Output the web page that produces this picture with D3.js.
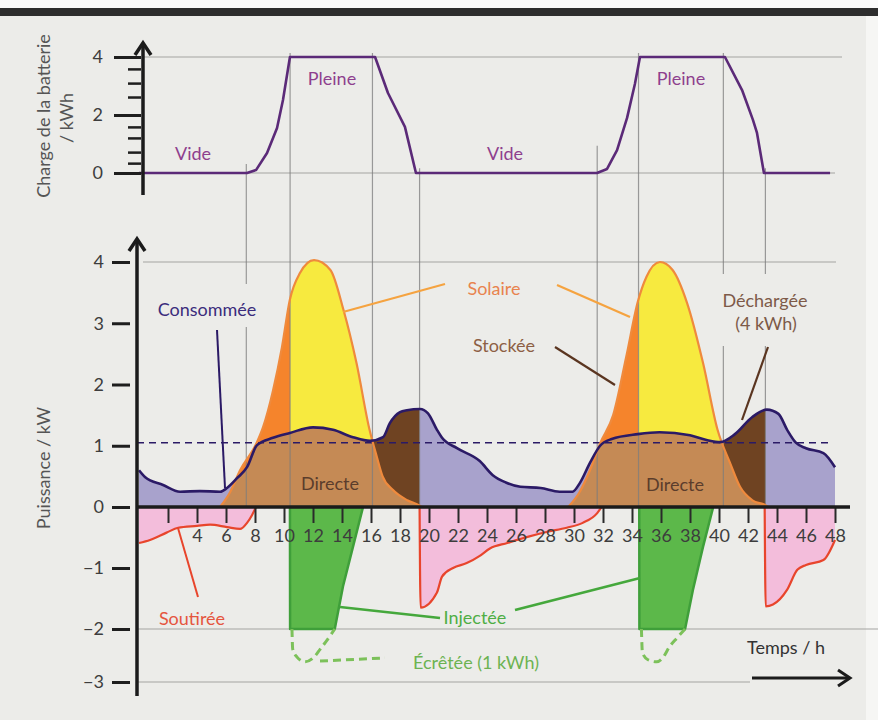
<!DOCTYPE html>
<html><head><meta charset="utf-8">
<script src="https://cdn.jsdelivr.net/npm/d3@7"></script>
<style>
html,body{margin:0;padding:0;background:#ecece9;}
svg{display:block;font-family:Lato,"Open Sans",sans-serif;}
</style></head><body>
<svg id="chart" width="878" height="720"></svg>
<script>
// ---------------- DATA ----------------
const hourTicks = d3.range(2, 49, 2);
const powerTicks = [-3, -2, -1, 0, 1, 2, 3, 4];
const chargeTicks = [0, 2, 4];
const chargeMinorTicks = [0.34, 0.72, 1.21, 1.59, 2.62, 3.1, 3.59];

// battery charge (kWh) vs hour
const battery = [[0,0],[7.45,0],[8.07,0.1],[8.83,0.69],[9.52,1.55],[9.93,2.52],[10.41,4],[16.28,4],[17.17,2.76],[18.34,1.59],[19.1,0],
  [31.59,0],[32.28,0.14],[32.97,0.79],[33.66,1.9],[34.2,3.07],[34.55,4],[40.41,4],[41.59,2.86],[42.34,1.83],[42.62,1.38],[43.1,0],[47.66,0]];

// consumption (kW)
const consumption = [[0,0.6],[0.41,0.49],[1.66,0.36],[2.83,0.25],[4.2,0.26],[5.6,0.25],[6.07,0.31],[6.76,0.47],[7.45,0.65],[8.14,1.01],
  [9.24,1.13],[10.41,1.21],[12,1.3],[13.38,1.26],[14.76,1.14],[15.93,1.08],[16.83,1.14],[17.3,1.37],[18.0,1.55],[18.48,1.58],[19.38,1.6],
  [19.93,1.53],[20.55,1.26],[20.9,1.13],[21.93,0.96],[23.5,0.75],[24.4,0.52],[25.3,0.4],[26.3,0.33],[27.7,0.31],[29,0.25],[29.9,0.25],
  [30.4,0.39],[31.1,0.72],[31.8,1.0],[32.6,1.11],[34.4,1.19],[35.9,1.22],[38,1.17],[39.2,1.09],[40.1,1.06],[41.1,1.19],[42.3,1.47],
  [43.3,1.59],[44.1,1.52],[44.7,1.26],[45.3,1.05],[46,0.96],[47.2,0.88],[48,0.65]];

// solar production (kW)
const solarDay1 = [[5.59,0],[6.3,0.25],[6.97,0.6],[8.1,1.04],[8.55,1.3],[9.24,1.9],[9.86,2.61],[10.4,3.38],[11.1,3.82],[12.07,4.03],
  [13.2,3.87],[14.1,3.22],[15.0,2.35],[15.9,1.26],[16.4,0.82],[16.8,0.5],[17.5,0.28],[18.5,0.11],[19.3,0.03],[19.5,0]];
const solarDay2 = [[29.6,0],[30.4,0.25],[31.1,0.6],[31.8,1.04],[32.7,1.5],[33.6,2.45],[34.4,3.35],[35,3.76],[35.93,4.0],[36.8,3.87],
  [37.8,3.33],[38.9,2.35],[39.9,1.26],[40.76,0.72],[41.45,0.33],[42.3,0.11],[43.2,0.03],[43.4,0]];

// grid draw (kW, negative)
const soutireeMorning = [[0,-0.59],[0.76,-0.54],[1.9,-0.42],[2.7,-0.34],[4.0,-0.31],[4.9,-0.29],[6.07,-0.33],[6.97,-0.36],[7.45,-0.26],[7.8,-0.13],[8.07,0]];
const soutireeNight = [[19.35,0],[19.42,-1.65],[20.55,-1.4],[20.9,-1.14],[21.66,-1.0],[22.6,-0.92],[23.5,-0.8],[24.2,-0.68],[25.4,-0.59],
  [26.8,-0.49],[28.1,-0.41],[29.5,-0.34],[30.6,-0.26],[31.6,-0.1],[31.9,0]];
const soutireeEvening = [[43.15,0],[43.22,-1.63],[43.72,-1.6],[44.69,-1.36],[45.4,-1.03],[46.0,-0.95],[47.2,-0.87],[48,-0.54]];

// injected to grid (kW, negative, capped at -2) and clipped part
const injectee1 = [[10.41,0],[10.42,-2],[13.5,-2],[14.07,-1.3],[14.76,-0.65],[15.45,0]];
const injectee2 = [[34.5,0],[34.51,-2],[37.66,-2],[38.2,-1.36],[38.9,-0.65],[39.6,0]];
const ecretee1 = [[10.55,-2],[10.6,-2.38],[10.9,-2.53],[11.45,-2.62],[12,-2.55],[12.5,-2.38],[13.2,-2.12],[13.5,-2]];
const ecretee2 = [[34.65,-2],[34.72,-2.45],[35.1,-2.58],[35.7,-2.62],[36.1,-2.55],[36.6,-2.33],[37.1,-2.17],[37.66,-2]];

// battery phase boundaries (hours) and battery level where the guide starts
const guides = [[7.4,0.17],[10.42,4],[16.1,4],[19.35,0.03],[31.6,0.8],[34.45,4],[40.3,4],[43.2,0.03]];
const storeWindows = [[0,10.42],[24,34.45]];
const injectWindows = [[10.42,24],[34.45,48]];
const dischargeWindows = [[16.1,19.35],[40.3,43.2]];
const selfLevel = 1.05;

// ---------------- DRAWING ----------------
const svg = d3.select('#chart');
const W = 878, H = 720;
const x = d3.scaleLinear().domain([0, 48]).range([139, 835]);
const yP = d3.scaleLinear().domain([-3, -2, 0, 4]).range([682, 629, 507, 262]);
const yB = d3.scaleLinear().domain([0, 4]).range([173, 57]);

const C = {
  bg:'#ecece9', grid:'#a3a3a1', lav:'#a8a2cc', cons:'#2b1a66', tan:'#c58a55', dark:'#6f4322',
  orange:'#f5842c', yellow:'#f7ea3f', sunLine:'#ef8a3d', pink:'#f3bddb', red:'#e8452c',
  green:'#5cb84a', greenLine:'#3f9f3a', lightGreen:'#7cc15a', batt:'#5b2a78', text:'#3d3d3d'
};
const FW = 400;

svg.append('rect').attr('width', W).attr('height', H).attr('fill', C.bg);
svg.append('rect').attr('width', W).attr('height', 8).attr('fill', '#fafafa');
svg.append('rect').attr('y', 8).attr('width', W).attr('height', 8).attr('fill', '#2d2d2d');
svg.append('rect').attr('x', 866).attr('y', 16).attr('width', 12).attr('height', H).attr('fill', '#f6f6f4');

const defs = svg.append('defs');

// horizontal grid lines
const gridG = svg.append('g').attr('stroke', C.grid).attr('stroke-width', 1.2);
[[yB(4),143,842],[yB(0),143,835],[yP(4),143,836],[yP(-2),137,878],[yP(-3),137,750]].forEach(([yy,a,b]) =>
  gridG.append('line').attr('x1',a).attr('x2',b).attr('y1',yy).attr('y2',yy));

const areaP = d3.area().x(d => x(d[0])).y0(yP(0)).y1(d => yP(d[1])).curve(d3.curveMonotoneX);
const lineP = d3.line().x(d => x(d[0])).y(d => yP(d[1])).curve(d3.curveMonotoneX);
const areaLin = d3.area().x(d => x(d[0])).y0(yP(0)).y1(d => yP(d[1]));

function windowClip(id, wins) {
  const cp = defs.append('clipPath').attr('id', id);
  wins.forEach(w => cp.append('rect').attr('x', x(w[0])).attr('width', x(w[1]) - x(w[0])).attr('y', 0).attr('height', H));
}
windowClip('storeClip', storeWindows);
windowClip('injectClip', injectWindows);
windowClip('dischClip', dischargeWindows);
defs.append('clipPath').attr('id', 'consClip').append('path').attr('d', areaP(consumption));

const fills = svg.append('g');
fills.append('path').attr('d', areaP(consumption)).attr('fill', C.lav);
fills.append('path').attr('d', areaP(consumption)).attr('fill', C.dark).attr('clip-path', 'url(#dischClip)');
[solarDay1, solarDay2].forEach(s => {
  fills.append('path').attr('d', areaP(s)).attr('fill', C.orange).attr('clip-path', 'url(#storeClip)');
  fills.append('path').attr('d', areaP(s)).attr('fill', C.yellow).attr('clip-path', 'url(#injectClip)');
  fills.append('path').attr('d', areaP(s)).attr('fill', C.tan).attr('clip-path', 'url(#consClip)');
});
[soutireeMorning, soutireeNight, soutireeEvening].forEach(s =>
  fills.append('path').attr('d', areaP(s)).attr('fill', C.pink));
[injectee1, injectee2].forEach(s =>
  fills.append('path').attr('d', areaLin(s)).attr('fill', C.green).attr('stroke', C.greenLine).attr('stroke-width', 2.5).attr('stroke-linejoin','round'));

// vertical guide lines
svg.append('g').selectAll('line').data(guides).join('line')
  .attr('x1', d => x(d[0])).attr('x2', d => x(d[0]))
  .attr('y1', d => yB(d[1]) - 4).attr('y2', yP(0))
  .attr('stroke', '#7d7d7d').attr('stroke-width', 1.2).attr('opacity', 0.75);

// self-consumption dashed level
svg.append('line').attr('x1', 137).attr('x2', 830).attr('y1', yP(selfLevel)).attr('y2', yP(selfLevel))
  .attr('stroke', C.cons).attr('stroke-width', 1.6).attr('stroke-dasharray', '7,5');

// curves
[solarDay1, solarDay2].forEach(s =>
  svg.append('path').attr('d', lineP(s)).attr('fill', 'none').attr('stroke', C.sunLine).attr('stroke-width', 2.2));
svg.append('path').attr('d', lineP(consumption)).attr('fill', 'none').attr('stroke', C.cons).attr('stroke-width', 2.6);
[soutireeMorning, soutireeNight, soutireeEvening].forEach(s =>
  svg.append('path').attr('d', lineP(s)).attr('fill', 'none').attr('stroke', C.red).attr('stroke-width', 2.2));
[ecretee1, ecretee2].forEach(s =>
  svg.append('path').attr('d', lineP(s)).attr('fill', 'none').attr('stroke', C.lightGreen).attr('stroke-width', 3).attr('stroke-dasharray', '8,5'));

const lineB = d3.line().x(d => x(d[0])).y(d => yB(d[1]));
svg.append('path').attr('d', lineB(battery)).attr('fill', 'none').attr('stroke', C.batt).attr('stroke-width', 2.6).attr('stroke-linejoin', 'round');

// axes
function styleText(sel) {
  sel.selectAll('text').attr('font-size', 18).attr('fill', C.text).attr('font-family', 'Lato, sans-serif').attr('font-weight', FW);
}
const xAxis = svg.append('g').attr('transform', `translate(0,${yP(0)})`)
  .call(d3.axisBottom(x).tickValues(hourTicks).tickSize(16).tickPadding(6).tickFormat(d => d === 2 ? '' : d));
xAxis.select('.domain').remove();
xAxis.selectAll('line').attr('stroke', '#2a2a2a').attr('stroke-width', 2);
styleText(xAxis);

const yAxis = svg.append('g').attr('transform', 'translate(130,0)')
  .call(d3.axisLeft(yP).tickValues(powerTicks).tickSize(18).tickPadding(8).tickFormat(d3.format('d')));
yAxis.select('.domain').remove();
yAxis.selectAll('line').attr('stroke', '#1e1e1e').attr('stroke-width', 3);
styleText(yAxis);

const bAxis = svg.append('g').attr('transform', 'translate(141,0)')
  .call(d3.axisLeft(yB).tickValues(chargeTicks).tickSize(27).tickPadding(11).tickFormat(d3.format('d')));
bAxis.select('.domain').remove();
bAxis.selectAll('line').attr('stroke', '#1e1e1e').attr('stroke-width', 3);
styleText(bAxis);
const bMinor = svg.append('g').attr('transform', 'translate(141,0)')
  .call(d3.axisLeft(yB).tickValues(chargeMinorTicks).tickSize(13).tickFormat(''));
bMinor.select('.domain').remove();
bMinor.selectAll('line').attr('stroke', '#1e1e1e').attr('stroke-width', 2.5);

const axG = svg.append('g').attr('stroke', '#1b1b1b').attr('stroke-width', 3.5).attr('fill', 'none');
axG.append('line').attr('x1', 137).attr('x2', 850).attr('y1', yP(0)).attr('y2', yP(0));
axG.append('line').attr('x1', 137).attr('x2', 137).attr('y1', 696).attr('y2', 240);
axG.append('path').attr('d', 'M129,251 L137,239 L145,251');
axG.append('line').attr('x1', 143).attr('x2', 143).attr('y1', 195).attr('y2', 44);
axG.append('path').attr('d', 'M135,55 L143,43 L151,55');
axG.append('line').attr('x1', 752).attr('x2', 848).attr('y1', 678).attr('y2', 678).attr('stroke-width', 3);
axG.append('path').attr('d', 'M838,670 L850,678 L838,686').attr('stroke-width', 3);

// knockouts behind some labels
svg.append('rect').attr('x', 156).attr('y', 284).attr('width', 106).attr('height', 43).attr('fill', C.bg);
svg.append('rect').attr('x', 716).attr('y', 274).attr('width', 98).attr('height', 72).attr('fill', C.bg);

// leaders
const leaders = [
  [[217,330],[225,488], C.cons, 2, null],
  [[343,312],[445,284], '#f5a340', 2.2, null],
  [[557,285],[630,317], '#f5a340', 2.2, null],
  [[555,347],[615,385], '#5a3520', 2.2, null],
  [[768,347],[742,420], '#5a3520', 2.2, null],
  [[178,528],[198,597], C.red, 2, null],
  [[340,607],[440,618], '#45a83c', 2.5, null],
  [[515,610],[640,578], '#45a83c', 2.5, null],
  [[320,661],[385,658], C.lightGreen, 3, '8,5']
];
leaders.forEach(([a,b,c,w,dash]) => svg.append('line').attr('x1',a[0]).attr('y1',a[1]).attr('x2',b[0]).attr('y2',b[1])
  .attr('stroke', c).attr('stroke-width', w).attr('stroke-dasharray', dash));

// labels
const labels = [
  ['Vide', 193, 153, '#8e3f8e'], ['Pleine', 332, 78, '#8e3f8e'], ['Vide', 505, 153, '#8e3f8e'], ['Pleine', 681, 78, '#8e3f8e'],
  ['Consommée', 207, 309, '#3b2c7c'], ['Solaire', 494, 288, '#e8834e'], ['Stockée', 504, 345, '#8d5f45'],
  ['Déchargée', 765, 300, '#7d5a48'], ['(4 kWh)', 766, 323, '#7d5a48'],
  ['Directe', 330, 483, '#5b3d2c'], ['Directe', 675, 484, '#5b3d2c'],
  ['Soutirée', 192, 618, '#e5553e'], ['Injectée', 475, 617, '#4fae45'], ['Écrêtée (1 kWh)', 476, 662, '#6cb352'],
  ['Temps / h', 786, 647, '#333333']
];
svg.append('g').selectAll('text').data(labels).join('text')
  .attr('x', d => d[1]).attr('y', d => d[2]).attr('fill', d => d[3]).text(d => d[0])
  .attr('text-anchor', 'middle').attr('dominant-baseline', 'central')
  .attr('font-size', 18).attr('font-weight', FW);

// axis titles
const titles = [['Charge de la batterie', 43, 116], ['/ kWh', 66, 118], ['Puissance / kW', 43, 468]];
svg.append('g').selectAll('text').data(titles).join('text')
  .attr('transform', d => `translate(${d[1]},${d[2]}) rotate(-90)`)
  .attr('text-anchor', 'middle').attr('dominant-baseline', 'central')
  .attr('font-size', 18).attr('font-weight', FW).attr('fill', '#555').text(d => d[0]);
</script>
</body></html>
